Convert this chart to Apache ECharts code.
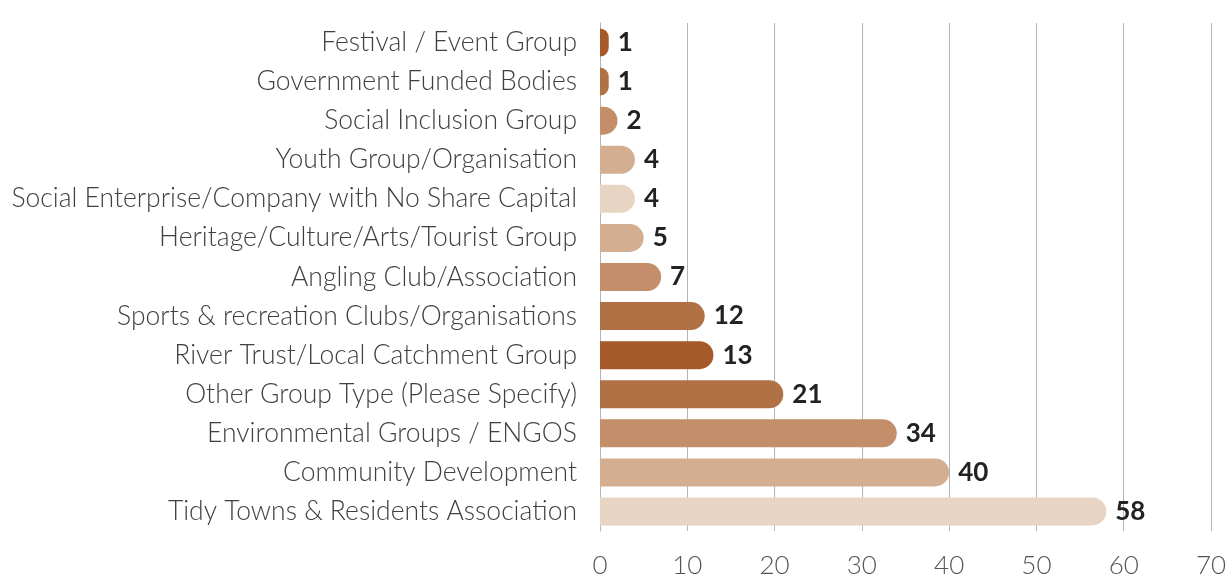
<!DOCTYPE html>
<html>
<head>
<meta charset="utf-8">
<script src="https://cdn.jsdelivr.net/npm/echarts@6/dist/echarts.min.js"></script>
<style>
  html, body { margin: 0; padding: 0; background: #fff; }
  #chart { width: 1232px; height: 579px; }
</style>
</head>
<body>
<div id="chart"></div>
<script>
// group types, top to bottom
let groups = [
    'Festival / Event Group',
    'Government Funded Bodies',
    'Social Inclusion Group',
    'Youth Group/Organisation',
    'Social Enterprise/Company with No Share Capital',
    'Heritage/Culture/Arts/Tourist Group',
    'Angling Club/Association',
    'Sports & recreation Clubs/Organisations',
    'River Trust/Local Catchment Group',
    'Other Group Type (Please Specify)',
    'Environmental Groups / ENGOS',
    'Community Development',
    'Tidy Towns & Residents Association'
];
let counts = [1, 1, 2, 4, 4, 5, 7, 12, 13, 21, 34, 40, 58];
let barColors = [
    '#a65a2a', '#b07145', '#c48e6a', '#d4ae90', '#e8d4c3',
    '#d4ae90', '#c48e6a', '#b07145', '#a65a2a', '#b07145',
    '#c48e6a', '#d4ae90', '#e8d4c3'
];
let xTicks = [0, 70, 10]; // min, max, interval

const chart = echarts.init(document.getElementById('chart'));

function getBarOption() {
    return {
        backgroundColor: '#ffffff',
        animation: false,
        grid: {
            left: 600,
            right: 21,
            top: 23,
            bottom: 48
        },
        xAxis: {
            type: 'value',
            min: xTicks[0],
            max: xTicks[1],
            interval: xTicks[2],
            axisLine: { show: false },
            axisTick: { show: false },
            splitLine: { lineStyle: { color: '#b4b4b4', width: 1 } },
            axisLabel: {
                margin: 22,
                fontFamily: 'Lato',
                fontWeight: 300,
                fontSize: 26,
                color: '#555555'
            }
        },
        yAxis: {
            type: 'category',
            inverse: true,
            data: groups,
            axisLine: { show: true, lineStyle: { color: '#b4b4b4', width: 1 } },
            axisTick: { show: false },
            axisLabel: {
                margin: 23,
                fontFamily: 'Lato',
                fontWeight: 300,
                fontSize: 26.5,
                color: '#404040'
            }
        },
        series: [{
            type: 'bar',
            barWidth: 28,
            data: counts.map(function (v, i) {
                return { value: v, itemStyle: { color: barColors[i] } };
            }),
            itemStyle: { borderRadius: [0, 14, 14, 0] },
            label: {
                show: true,
                position: 'right',
                distance: 9,
                fontFamily: 'Lato',
                fontWeight: 'bold',
                fontSize: 26,
                color: '#222222'
            }
        }]
    };
}

chart.setOption(getBarOption());
</script>
</body>
</html>
